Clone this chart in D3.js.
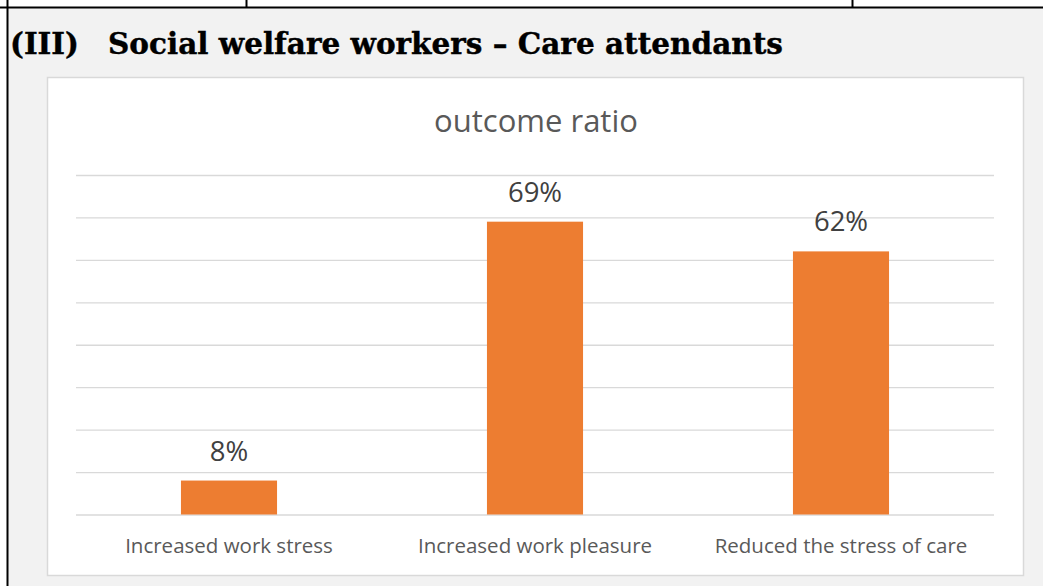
<!DOCTYPE html>
<html>
<head>
<meta charset="utf-8">
<script src="https://cdn.jsdelivr.net/npm/d3@7"></script>
<style>
  html, body { margin: 0; padding: 0; background: #ffffff; }
  svg { display: block; }
</style>
</head>
<body>
<svg id="chart" width="1043" height="586"></svg>
<script>
// Survey outcome for care attendants
const categories = ["Increased work stress", "Increased work pleasure", "Reduced the stress of care"];
const values = [0.08, 0.69, 0.62];
const yTicks = [0, 0.1, 0.2, 0.3, 0.4, 0.5, 0.6, 0.7, 0.8];
const sectionNumber = "(III)";
const sectionTitle = "Social welfare workers \u2013 Care attendants";
const chartTitle = "outcome ratio";

const svg = d3.select("#chart");
const W = 1043, H = 586;

// Page background: grey cell below the table rule
svg.append("rect").attr("x", 0).attr("y", 0).attr("width", W).attr("height", H).attr("fill", "#ffffff");
svg.append("rect").attr("x", 8).attr("y", 8).attr("width", W - 8).attr("height", H - 8).attr("fill", "#f2f2f2");

// Table rules
svg.append("line").attr("x1", 0).attr("x2", W).attr("y1", 7.5).attr("y2", 7.5)
  .attr("stroke", "#000").attr("stroke-width", 2);
svg.append("line").attr("x1", 7.5).attr("x2", 7.5).attr("y1", 0).attr("y2", H)
  .attr("stroke", "#000").attr("stroke-width", 2);
[246.5, 852.5].forEach(x => {
  svg.append("line").attr("x1", x).attr("x2", x).attr("y1", 0).attr("y2", 7)
    .attr("stroke", "#000").attr("stroke-width", 2);
});

// Section heading: number and title, each squeezed to its span
function heading(str, x0, width) {
  const g = svg.append("g");
  const t = g.append("text")
    .attr("x", 0).attr("y", 0)
    .attr("font-family", "'DejaVu Serif', 'Liberation Serif', serif")
    .attr("font-weight", "bold")
    .attr("font-size", 29)
    .attr("fill", "#000")
    .attr("stroke", "#000").attr("stroke-width", 0.4)
    .text(str);
  const w = t.node().getComputedTextLength();
  g.attr("transform", `translate(${x0},54) scale(${width / w},1)`);
}
heading(sectionNumber, 10, 69);
heading(sectionTitle, 108, 675);

// Chart area
svg.append("rect")
  .attr("x", 47.5).attr("y", 77.5).attr("width", 976).attr("height", 498)
  .attr("fill", "#ffffff").attr("stroke", "#d9d9d9").attr("stroke-width", 1.5);

const plot = { left: 76, right: 994, top: 175, bottom: 514.5 };

const x = d3.scaleBand().domain(categories).range([plot.left, plot.right]).padding(0);
const y = d3.scaleLinear().domain([0, 0.8]).range([plot.bottom, plot.top]);

const font = "'Open Sans', 'Noto Sans', sans-serif";

// Chart title
svg.append("text")
  .attr("x", (plot.left + plot.right) / 2 + 1).attr("y", 132)
  .attr("text-anchor", "middle")
  .attr("font-family", font).attr("font-size", 31)
  .attr("fill", "#595959")
  .text(chartTitle);

// Horizontal gridlines
const yAxis = d3.axisLeft(y).tickValues(yTicks).tickSize(-(plot.right - plot.left)).tickFormat("");
const gy = svg.append("g").attr("transform", `translate(${plot.left},0)`).call(yAxis);
gy.select(".domain").remove();
gy.selectAll(".tick line").attr("stroke", "#d9d9d9").attr("stroke-width", 1.3);

// Bars
const barW = x.bandwidth() * 0.314;
svg.append("g").selectAll("rect")
  .data(categories)
  .join("rect")
  .attr("x", (d) => x(d) + (x.bandwidth() - barW) / 2)
  .attr("y", (d, i) => y(values[i]))
  .attr("width", barW)
  .attr("height", (d, i) => y(0) - y(values[i]))
  .attr("fill", "#ed7d31");

// Value labels
svg.append("g").selectAll("text")
  .data(categories)
  .join("text")
  .attr("x", (d) => x(d) + x.bandwidth() / 2)
  .attr("y", (d, i) => y(values[i]) - 20)
  .attr("text-anchor", "middle")
  .attr("font-family", font).attr("font-size", 27.5)
  .attr("fill", "#404040")
  .text((d, i) => d3.format(".0%")(values[i]));

// Category axis labels
const xAxis = d3.axisBottom(x).tickSize(0).tickPadding(0);
const gx = svg.append("g").attr("transform", `translate(0,${plot.bottom})`).call(xAxis);
gx.select(".domain").remove();
gx.selectAll(".tick text")
  .attr("dy", 0).attr("y", 38.5)
  .attr("font-family", font).attr("font-size", 20.5)
  .attr("fill", "#595959");
</script>
</body>
</html>
